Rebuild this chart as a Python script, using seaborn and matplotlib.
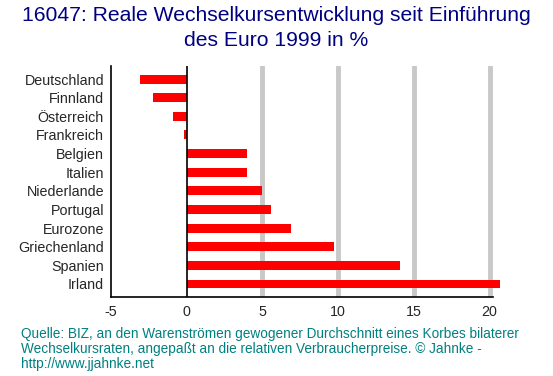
import matplotlib
matplotlib.use("Agg")
import matplotlib.pyplot as plt
import seaborn as sns
import pandas as pd

countries = ["Deutschland", "Finnland", "Österreich", "Frankreich", "Belgien", "Italien",
             "Niederlande", "Portugal", "Eurozone", "Griechenland", "Spanien", "Irland"]
values = [-3.1, -2.2, -0.9, -0.2, 4.0, 4.0, 5.0, 5.6, 6.9, 9.7, 14.1, 20.7]
xticks = [-5, 0, 5, 10, 15, 20]
grid_at = [5, 10, 15, 20]

sns.set_style("white")
plt.rcParams["font.family"] = ["Liberation Sans", "DejaVu Sans"]

df = pd.DataFrame({"Land": countries, "Wert": values})

fig = plt.figure(figsize=(5.53, 3.76), dpi=100)
ax = fig.add_axes([0.2007, 0.21, 0.69, 0.6145])

for g in grid_at:
    ax.axvline(g, color="#c8c8c8", lw=3.5, zorder=0)

sns.barplot(data=df, y="Land", x="Wert", orient="h", color="#ff0000",
            saturation=1, width=0.48, ax=ax, zorder=3)
for p in ax.patches:
    p.set_clip_on(False)
    p.set_edgecolor("none")

ax.axvline(0, color="black", lw=1.2, zorder=4)
ax.set_xlim(-5, 20.2)
ax.set_ylim(11.7, -0.7)
ax.set_xticks(xticks)
ax.set_xticklabels([str(t) for t in xticks], fontsize=10.3)
ax.tick_params(axis="x", length=0, pad=6)
ax.tick_params(axis="y", length=0, pad=5, labelsize=10.3)
ax.set_xlabel("")
ax.set_ylabel("")
for s in ["top", "right"]:
    ax.spines[s].set_visible(False)
for s in ["left", "bottom"]:
    ax.spines[s].set_color("black")
    ax.spines[s].set_linewidth(1.2)

fig.text(0.5, 0.985, "16047: Reale Wechselkursentwicklung seit Einführung\ndes Euro 1999 in %",
         ha="center", va="top", fontsize=15.2, color="#000080", linespacing=1.45)
fig.text(0.038, 0.13,
         "Quelle: BIZ, an den Warenströmen gewogener Durchschnitt eines Korbes bilaterer\n"
         "Wechselkursraten, angepaßt an die relativen Verbraucherpreise. © Jahnke -\n"
         "http://www.jjahnke.net",
         ha="left", va="top", fontsize=9.8, color="#008080", linespacing=1.1)

fig.savefig("out.png", dpi=100)
